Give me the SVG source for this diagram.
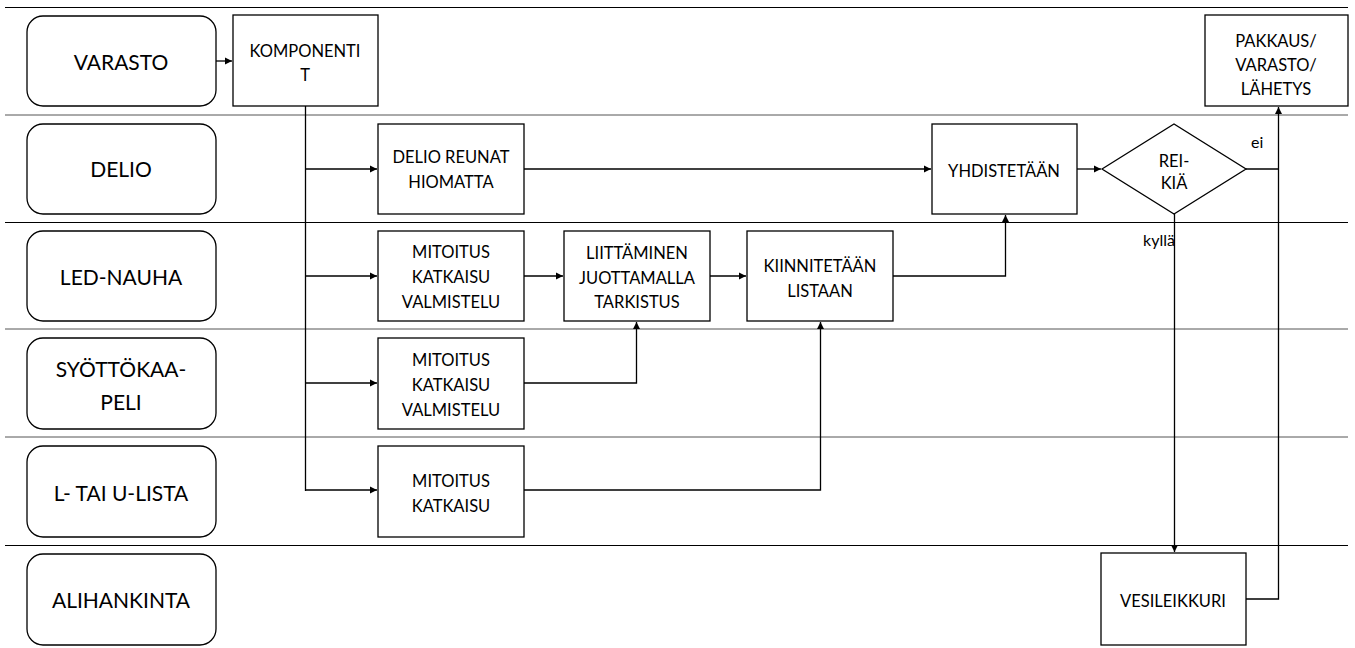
<svg xmlns="http://www.w3.org/2000/svg" width="1355" height="648" viewBox="0 0 1355 648">
<style>
.lane{fill:#fff;stroke:#000;stroke-width:1.3}
.box{fill:#fff;stroke:#000;stroke-width:1.3}
.sep{stroke:#000;stroke-width:1}
.sepg{stroke:#555;stroke-width:1}
.ln{fill:none;stroke:#000;stroke-width:1.3}
.lt{font-family:Lato,"Liberation Sans",sans-serif;font-size:21px;text-anchor:middle;fill:#000}
.bt{font-family:Lato,"Liberation Sans",sans-serif;font-size:16.5px;text-anchor:middle;fill:#000}
.lb{font-family:Lato,"Liberation Sans",sans-serif;font-size:16px;fill:#000}
</style>
<defs>
<marker id="ah" markerWidth="8" markerHeight="8" refX="7" refY="4" orient="auto" markerUnits="userSpaceOnUse">
<path d="M0,0.5 L7,4 L0,7.5 Z" fill="#000"/>
</marker>
</defs>
<rect width="1355" height="648" fill="#fff"/>
<g id="separators">
<line class="sep" x1="5" y1="7.5" x2="1348" y2="7.5"/>
<line class="sepg" x1="5" y1="115" x2="1348" y2="115"/>
<line class="sep" x1="5" y1="222.5" x2="1348" y2="222.5"/>
<line class="sepg" x1="5" y1="329" x2="1348" y2="329"/>
<line class="sepg" x1="5" y1="437" x2="1348" y2="437"/>
<line class="sep" x1="5" y1="545.5" x2="1348" y2="545.5"/>
</g>
<g id="lane-varasto"><rect class="lane" x="27" y="16" width="189" height="90" rx="16"/><text class="lt" x="121" y="70">VARASTO</text></g>
<g id="lane-delio"><rect class="lane" x="27" y="124" width="189" height="90" rx="16"/><text class="lt" x="121" y="177">DELIO</text></g>
<g id="lane-led"><rect class="lane" x="27" y="231" width="189" height="90" rx="16"/><text class="lt" x="121" y="285">LED-NAUHA</text></g>
<g id="lane-syotto"><rect class="lane" x="27" y="338" width="189" height="91" rx="16"/><text class="lt" x="121" y="377">SYÖTTÖKAA-</text><text class="lt" x="121" y="410">PELI</text></g>
<g id="lane-lista"><rect class="lane" x="27" y="446" width="189" height="91" rx="16"/><text class="lt" x="121" y="501">L- TAI U-LISTA</text></g>
<g id="lane-alihankinta"><rect class="lane" x="27" y="554" width="189" height="91" rx="16"/><text class="lt" x="121" y="608">ALIHANKINTA</text></g>

<g id="komponentit"><rect class="box" x="233" y="15" width="145" height="91"/><text class="bt" x="305" y="57">KOMPONENTI</text><text class="bt" x="305" y="81">T</text></g>
<g id="delio-reunat"><rect class="box" x="378" y="124" width="146" height="90"/><text class="bt" x="451" y="163">DELIO REUNAT</text><text class="bt" x="451" y="188">HIOMATTA</text></g>
<g id="led-mitoitus"><rect class="box" x="378" y="231" width="146" height="90"/><text class="bt" x="451" y="258">MITOITUS</text><text class="bt" x="451" y="283">KATKAISU</text><text class="bt" x="451" y="308">VALMISTELU</text></g>
<g id="liittaminen"><rect class="box" x="564" y="231" width="146" height="90"/><text class="bt" x="637" y="259">LIITTÄMINEN</text><text class="bt" x="637" y="284">JUOTTAMALLA</text><text class="bt" x="637" y="308">TARKISTUS</text></g>
<g id="kiinnitetaan"><rect class="box" x="747" y="231" width="146" height="90"/><text class="bt" x="820" y="272">KIINNITETÄÄN</text><text class="bt" x="820" y="297">LISTAAN</text></g>
<g id="syotto-mitoitus"><rect class="box" x="378" y="338" width="146" height="91"/><text class="bt" x="451" y="366">MITOITUS</text><text class="bt" x="451" y="391">KATKAISU</text><text class="bt" x="451" y="416">VALMISTELU</text></g>
<g id="lista-mitoitus"><rect class="box" x="378" y="446" width="146" height="91"/><text class="bt" x="451" y="487">MITOITUS</text><text class="bt" x="451" y="512">KATKAISU</text></g>
<g id="yhdistetaan"><rect class="box" x="932" y="124" width="145" height="90"/><text class="bt" x="1004" y="177">YHDISTETÄÄN</text></g>
<g id="reikia"><polygon class="box" points="1102,169 1174,124 1246,169 1174,214"/><text class="bt" x="1174" y="167">REI-</text><text class="bt" x="1174" y="189">KIÄ</text></g>
<g id="pakkaus"><rect class="box" x="1205" y="15" width="143" height="91"/><text class="bt" x="1276" y="47">PAKKAUS/</text><text class="bt" x="1276" y="71">VARASTO/</text><text class="bt" x="1276" y="95">LÄHETYS</text></g>
<g id="vesileikkuri"><rect class="box" x="1101" y="553" width="145" height="92"/><text class="bt" x="1173" y="607">VESILEIKKURI</text></g>

<g id="connectors">
<line class="ln" x1="216" y1="61" x2="232" y2="61" marker-end="url(#ah)"/>
<polyline class="ln" points="305.5,106 305.5,491"/>
<line class="ln" x1="305.5" y1="169" x2="377" y2="169" marker-end="url(#ah)"/>
<line class="ln" x1="305.5" y1="276" x2="377" y2="276" marker-end="url(#ah)"/>
<line class="ln" x1="305.5" y1="383" x2="377" y2="383" marker-end="url(#ah)"/>
<polyline class="ln" points="305.5,490 377,490" marker-end="url(#ah)"/>
<line class="ln" x1="524" y1="276" x2="563" y2="276" marker-end="url(#ah)"/>
<line class="ln" x1="710" y1="276" x2="746" y2="276" marker-end="url(#ah)"/>
<polyline class="ln" points="524,383 636.5,383 636.5,322" marker-end="url(#ah)"/>
<polyline class="ln" points="524,490 820.5,490 820.5,322" marker-end="url(#ah)"/>
<line class="ln" x1="524" y1="169" x2="931" y2="169" marker-end="url(#ah)"/>
<polyline class="ln" points="893,276 1005.5,276 1005.5,215" marker-end="url(#ah)"/>
<line class="ln" x1="1077" y1="169" x2="1101" y2="169" marker-end="url(#ah)"/>
<line class="ln" x1="1174.5" y1="214" x2="1174.5" y2="552" marker-end="url(#ah)"/>
<polyline class="ln" points="1246,169 1278.5,169"/>
<polyline class="ln" points="1246,599 1278.5,599 1278.5,107" marker-end="url(#ah)"/>
<text class="lb" x="1251" y="148">ei</text>
<text class="lb" x="1143" y="246">kyllä</text>
</g>
</svg>
